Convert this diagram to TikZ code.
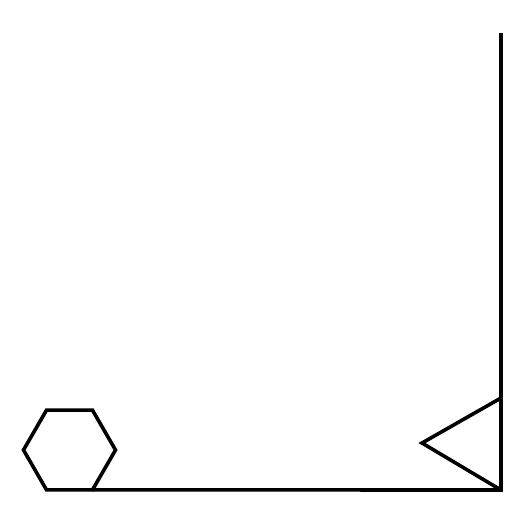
\documentclass[tikz,border=0pt]{standalone}
\usepackage{tikz}
\usetikzlibrary{calc}

\tikzset{stroke/.style={line width=3.6pt,line join=miter,black}}

\begin{document}
\begin{tikzpicture}[x=1pt,y=-1pt]
\useasboundingbox (0,0) rectangle (525,525);
\coordinate (hexc) at (69.5,450);
\coordinate (corner) at (501,490);
\coordinate (top) at (501,33);
\coordinate (tip) at (422,443);
\coordinate (tritop) at (501,398);
\coordinate (hexbr) at ($(hexc)+(60:46)$);
\draw[stroke] ($(hexc)+(0:46)$) \foreach \a in {60,120,...,300} {-- ($(hexc)+(\a:46)$)} -- cycle;
\draw[stroke] (hexbr) -- (corner) -- (top);
\draw[stroke] (tritop) -- (tip) -- (corner);
\end{tikzpicture}
\end{document}
